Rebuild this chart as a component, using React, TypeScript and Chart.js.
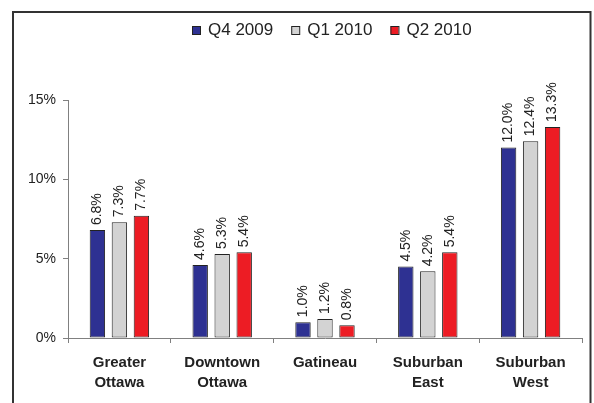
import { useEffect, useRef } from 'react';
import { Chart, registerables } from 'chart.js';

Chart.register(...registerables);

const categories: string[][] = [
  ['Greater', 'Ottawa'],
  ['Downtown', 'Ottawa'],
  ['Gatineau'],
  ['Suburban', 'East'],
  ['Suburban', 'West'],
];
const seriesNames = ['Q4 2009', 'Q1 2010', 'Q2 2010'];
const q4_2009 = [6.8, 4.6, 1.0, 4.5, 12.0];
const q1_2010 = [7.3, 5.3, 1.2, 4.2, 12.4];
const q2_2010 = [7.7, 5.4, 0.8, 5.4, 13.3];
const seriesColors = ['#2E3192', '#D3D3D3', '#ED1C24'];
const yMin = 0;
const yMax = 15;
const yStep = 5;

const FONT = "'Liberation Sans', Arial, sans-serif";
const TEXT = '#222222';

const framePlugin = {
  id: 'frame',
  beforeDraw(chart: any) {
    const ctx = chart.ctx;
    ctx.save();
    ctx.fillStyle = '#ffffff';
    ctx.fillRect(0, 0, chart.width, chart.height);
    ctx.strokeStyle = '#333333';
    ctx.lineWidth = 2;
    ctx.strokeRect(13, 12, 577.5, chart.height + 20);
    ctx.restore();
  },
};

const legendPlugin = {
  id: 'customLegend',
  afterDraw(chart: any) {
    const ctx = chart.ctx;
    ctx.save();
    ctx.font = `17px ${FONT}`;
    ctx.textBaseline = 'middle';
    ctx.textAlign = 'left';
    let x = 192;
    const y = 30;
    chart.data.datasets.forEach((ds: any) => {
      ctx.fillStyle = ds.backgroundColor;
      ctx.fillRect(x, y - 4, 8, 8);
      ctx.strokeStyle = '#222';
      ctx.lineWidth = 1;
      ctx.strokeRect(x + 0.5, y - 3.5, 8, 8);
      ctx.fillStyle = TEXT;
      ctx.fillText(ds.label, x + 16, y);
      x += 16 + ctx.measureText(ds.label).width + 18;
    });
    ctx.restore();
  },
};

const valueLabelPlugin = {
  id: 'valueLabels',
  afterDatasetsDraw(chart: any) {
    const ctx = chart.ctx;
    ctx.save();
    ctx.font = `14px ${FONT}`;
    ctx.fillStyle = TEXT;
    ctx.textAlign = 'left';
    ctx.textBaseline = 'middle';
    chart.data.datasets.forEach((ds: any, di: number) => {
      const meta = chart.getDatasetMeta(di);
      meta.data.forEach((bar: any, i: number) => {
        const v = ds.data[i] as number;
        ctx.save();
        ctx.translate(bar.x, bar.y - 5);
        ctx.rotate(-Math.PI / 2);
        ctx.fillText(v.toFixed(1) + '%', 0, 0);
        ctx.restore();
      });
    });
    ctx.restore();
  },
};

export default function App() {
  const ref = useRef<HTMLCanvasElement | null>(null);
  useEffect(() => {
    if (!ref.current) return;
    const values = [q4_2009, q1_2010, q2_2010];
    const chart = new Chart(ref.current, {
      type: 'bar',
      data: {
        labels: categories,
        datasets: seriesNames.map((name, i) => ({
          label: name,
          data: values[i],
          backgroundColor: seriesColors[i],
          borderColor: '#222222',
          borderWidth: 1,
          borderSkipped: false,
          categoryPercentage: 0.642,
          barPercentage: 0.7,
        })),
      },
      options: {
        animation: false,
        responsive: false,
        devicePixelRatio: 1,
        layout: { padding: { top: 100, left: 0, right: 12, bottom: 0 } },
        plugins: {
          legend: { display: false },
          tooltip: { enabled: false },
        },
        scales: {
          x: {
            offset: true,
            grid: {
              display: true,
              drawOnChartArea: false,
              drawTicks: true,
              tickLength: 5,
              color: '#808080',
              offset: true,
            },
            border: { display: true, color: '#808080', width: 1 },
            ticks: {
              color: TEXT,
              font: { family: FONT, size: 15, weight: 'bold', lineHeight: 1.33 },
              padding: 10,
              maxRotation: 0,
              autoSkip: false,
            },
            afterFit(scale: any) {
              scale.height = 65;
            },
          },
          y: {
            min: yMin,
            max: yMax,
            ticks: {
              stepSize: yStep,
              color: TEXT,
              font: { family: FONT, size: 14 },
              padding: 7,
              callback: (v: any) => `${v}%`,
            },
            grid: {
              display: true,
              drawOnChartArea: false,
              drawTicks: true,
              tickLength: 5,
              color: '#808080',
            },
            border: { display: true, color: '#808080', width: 1 },
            afterFit(scale: any) {
              scale.width = 68;
            },
          },
        },
      },
      plugins: [framePlugin, legendPlugin, valueLabelPlugin],
    } as any);
    return () => chart.destroy();
  }, []);
  return (
    <div style={{ position: 'absolute', left: 0, top: 0, width: 594, height: 403 }}>
      <canvas ref={ref} width={594} height={403} style={{ display: 'block' }} />
    </div>
  );
}
